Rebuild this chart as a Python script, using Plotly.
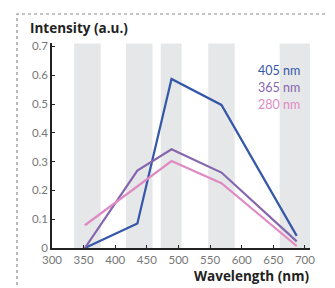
import plotly.graph_objects as go

wavelength = [352, 435, 489, 568, 687]
i405 = [0.0, 0.085, 0.587, 0.497, 0.042]
i365 = [0.0, 0.269, 0.343, 0.262, 0.023]
i280 = [0.079, 0.215, 0.302, 0.225, 0.007]

bands = [(335, 377), (417, 459), (472, 505), (547, 589), (660, 708)]
series_names = ["405 nm", "365 nm", "280 nm"]
colors = ["#3557a7", "#8566ad", "#e08ac3"]

yticks = [0, 0.1, 0.2, 0.3, 0.4, 0.5, 0.6, 0.7]
yticktext = ["0", "0.1", "0.2", "0.3", "0.4", "0.5", "0.6", "0.7"]
xticks = [300, 350, 400, 450, 500, 550, 600, 650, 700]

# page body has an 8px margin; the figure is laid out in its own pixels
OFF = 8
W, H = 327, 280
L, T = 52 - OFF, 43 - OFF
pw, ph = 258, 205
R, B = W - L - pw, H - T - ph

def px(x):
    return (x - OFF - L) / pw

def py(y):
    return (T + ph - (y - OFF)) / ph

fig = go.Figure()
for name, vals, c in zip(series_names, [i405, i365, i280], colors):
    fig.add_trace(go.Scatter(x=wavelength, y=vals, mode="lines", name=name,
                             line=dict(color=c, width=2.2), showlegend=False))

shapes = []
for a, b in bands:
    shapes.append(dict(type="rect", xref="x", yref="y", x0=a, x1=b, y0=0, y1=0.71,
                       fillcolor="#e6e7e8", line=dict(width=0), layer="below"))
shapes.append(dict(type="rect", xref="paper", yref="paper",
                   x0=px(17), x1=px(328), y0=py(300), y1=py(14),
                   line=dict(color="#8a8a8a", width=1.2, dash="dot"),
                   fillcolor="rgba(0,0,0,0)"))

annotations = [
    dict(text="<b>Intensity (a.u.)</b>", xref="paper", yref="paper", x=px(28), y=py(28),
         xanchor="left", yanchor="middle", showarrow=False,
         font=dict(family="Open Sans", size=13.5, color="#222")),
    dict(text="<b>Wavelength (nm)</b>", xref="paper", yref="paper", x=px(311), y=py(276),
         xanchor="right", yanchor="middle", showarrow=False,
         font=dict(family="Open Sans", size=13.5, color="#222")),
]
legend_y = [70, 87, 104]
for name, c, ly in zip(series_names, colors, legend_y):
    annotations.append(dict(text=name, xref="paper", yref="paper", x=px(256), y=py(ly),
                            xanchor="left", yanchor="middle", showarrow=False,
                            font=dict(family="Lato", size=12.5, color=c)))

fig.update_layout(
    width=W, height=H, margin=dict(l=L, r=R, t=T, b=B),
    paper_bgcolor="white", plot_bgcolor="white",
    shapes=shapes, annotations=annotations,
    xaxis=dict(range=[300, 708], tickvals=xticks, showgrid=False, zeroline=False,
               showline=True, linecolor="#222", linewidth=1.5,
               ticks="inside", ticklen=3, tickcolor="#222",
               tickfont=dict(family="Lato", size=11.5, color="#777")),
    yaxis=dict(range=[0, 0.712], tickvals=yticks, ticktext=yticktext, showgrid=False,
               zeroline=False, showline=True, linecolor="#222", linewidth=1.5,
               ticks="inside", ticklen=3, tickcolor="#222",
               tickfont=dict(family="Lato", size=11.5, color="#777")),
)

fig.write_html("out.html")
